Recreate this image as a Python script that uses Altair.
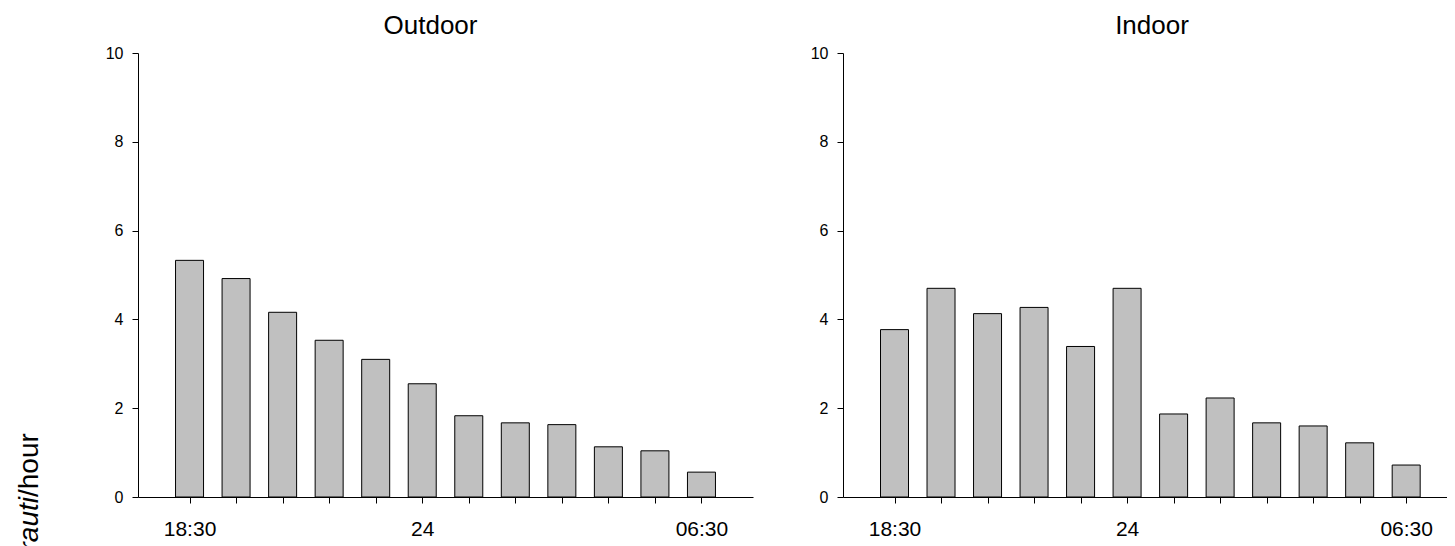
import altair as alt
import pandas as pd

# ---- data ----
periods = list(range(1, 13))
outdoor = [5.33, 4.92, 4.16, 3.53, 3.10, 2.55, 1.83, 1.67, 1.63, 1.13, 1.04, 0.56]
indoor = [3.77, 4.70, 4.13, 4.27, 3.39, 4.70, 1.87, 2.23, 1.67, 1.60, 1.22, 0.72]
tick_positions = [1, 6, 12]
tick_labels = ["18:30", "24", "06:30"]
y_ticks = [0, 2, 4, 6, 8, 10]
panel_titles = ["Outdoor", "Indoor"]
y_title_italic = "An. farauti"
y_title_plain = "/hour"

FONT = "Liberation Sans"

label_expr = " : ".join(
    f"datum.value == {p} ? '{l}'" for p, l in zip(tick_positions, tick_labels)
) + " : ''"


def panel(values, title, with_ytitle, dx, width, x_max):
    df = pd.DataFrame({"period": periods, "value": values})
    bars = alt.Chart(df).mark_bar(
        size=28, color="#c0c0c0", stroke="black", strokeWidth=1
    ).encode(
        x=alt.X(
            "period:Q",
            scale=alt.Scale(domain=[0, x_max], nice=False, zero=False),
            axis=alt.Axis(
                values=periods, labelExpr=label_expr, tickSize=6, labelPadding=15,
                labelFontSize=21, labelFont=FONT, labelColor="black", title=None,
                grid=False, domainColor="black", tickColor="black",
                labelFlush=False, labelOverlap=False,
            ),
        ),
        y=alt.Y(
            "value:Q",
            scale=alt.Scale(domain=[0, 10], nice=False),
            axis=alt.Axis(
                values=y_ticks, tickSize=6, labelPadding=9, labelFontSize=16,
                labelFont=FONT, labelColor="black", title=None, grid=False,
                domainColor="black", tickColor="black",
            ),
        ),
    )
    layers = [bars]
    if with_ytitle:
        t1 = alt.Chart(pd.DataFrame({"t": [y_title_plain]})).mark_text(
            angle=270, align="left", baseline="alphabetic", font=FONT,
            fontSize=28, color="black",
        ).encode(text="t:N", x=alt.value(-100), y=alt.value(444))
        t2 = alt.Chart(pd.DataFrame({"t": [y_title_italic]})).mark_text(
            angle=270, align="right", baseline="alphabetic", font=FONT,
            fontSize=28, fontStyle="italic", color="black",
        ).encode(text="t:N", x=alt.value(-100), y=alt.value(444))
        layers += [t1, t2]
    return alt.layer(*layers).properties(
        width=width, height=444,
        title=alt.TitleParams(
            title, font=FONT, fontSize=26, fontWeight="normal", color="black",
            frame="group", anchor="middle", dx=dx, offset=6,
        ),
    )


chart = alt.hconcat(
    panel(outdoor, panel_titles[0], True, -15, 615, 13),
    panel(indoor, panel_titles[1], False, 7, 604, 12.77),
    spacing=57,
).properties(
    padding={"left": 8, "top": 5, "right": 0, "bottom": 0}
).configure_view(stroke=None)

chart.save("out.html", embed_options={"renderer": "svg", "actions": False})
